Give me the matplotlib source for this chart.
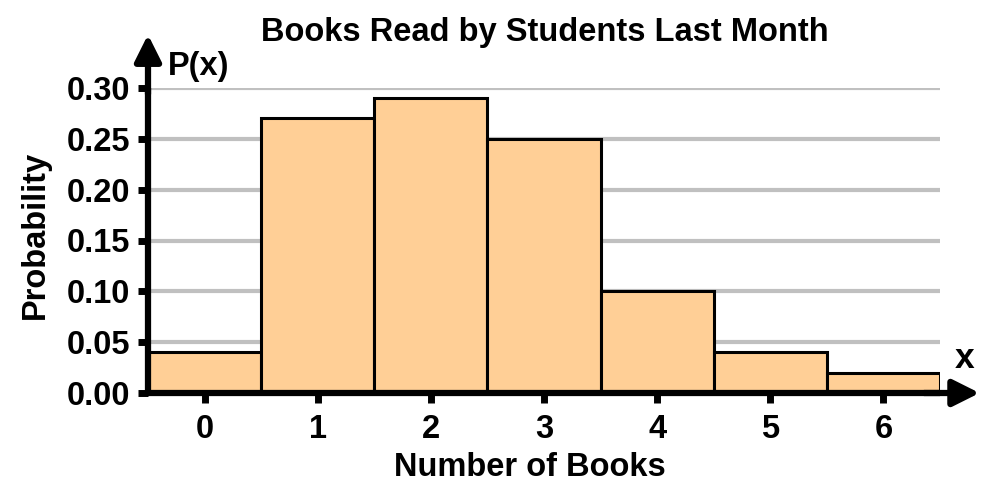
import matplotlib
matplotlib.use("Agg")
import matplotlib.pyplot as plt

books = [0, 1, 2, 3, 4, 5, 6]
probability = [0.04, 0.27, 0.29, 0.25, 0.10, 0.04, 0.02]
yticks = [0.00, 0.05, 0.10, 0.15, 0.20, 0.25, 0.30]
ytick_labels = ["0.00", "0.05", "0.10", "0.15", "0.20", "0.25", "0.30"]

plt.rcParams['font.family'] = ['Liberation Sans', 'DejaVu Sans']
plt.rcParams['font.weight'] = 'bold'

FS = 23.5

fig = plt.figure(figsize=(10, 5), dpi=100)
ax = fig.add_axes([0.148, 0.214, 0.792, 0.610])

ax.bar(books, probability, width=1.0, color='#FFCF96', edgecolor='black', linewidth=2.2, zorder=3)
ax.set_xlim(-0.5, 6.5)
ax.set_ylim(0, 0.30)
ax.set_yticks(yticks)
ax.set_yticklabels(ytick_labels)
ax.set_xticks(books)
ax.set_xticklabels([str(b) for b in books])
ax.yaxis.grid(True, color='#C0C0C0', linewidth=3, zorder=0)
ax.set_axisbelow(True)
for s in ['top', 'right']:
    ax.spines[s].set_visible(False)
for s in ['left', 'bottom']:
    ax.spines[s].set_linewidth(4.5)
    ax.spines[s].set_zorder(5)
    ax.spines[s].set_capstyle('butt')
ax.tick_params(axis='both', which='both', width=5, length=7, labelsize=FS, direction='out')
ax.tick_params(axis='y', pad=6)
ax.tick_params(axis='x', pad=8)
for lab in ax.get_xticklabels() + ax.get_yticklabels():
    lab.set_fontweight('bold')

# arrows extending axes
ax.annotate('', xy=(0, 1.175), xytext=(0, 0.98), xycoords='axes fraction',
            arrowprops=dict(arrowstyle='-|>,head_length=1.6,head_width=0.8', color='black', lw=4.5, shrinkA=0, shrinkB=0),
            annotation_clip=False)
ax.annotate('', xy=(1.05, 0), xytext=(0.98, 0), xycoords='axes fraction',
            arrowprops=dict(arrowstyle='-|>,head_length=1.6,head_width=0.8', color='black', lw=4.5, shrinkA=0, shrinkB=0),
            annotation_clip=False)

fig.text(0.545, 0.936, 'Books Read by Students Last Month', ha='center', va='center', fontsize=FS, fontweight='bold')
fig.text(0.168, 0.868, 'P(x)', ha='left', va='center', fontsize=FS, fontweight='bold')
fig.text(0.965, 0.284, 'x', ha='center', va='center', fontsize=FS + 2, fontweight='bold')
fig.text(0.53, 0.064, 'Number of Books', ha='center', va='center', fontsize=FS, fontweight='bold')
fig.text(0.035, 0.53, 'Probability', ha='center', va='center', rotation=90, fontsize=FS, fontweight='bold')

fig.savefig('out.png', dpi=100)
